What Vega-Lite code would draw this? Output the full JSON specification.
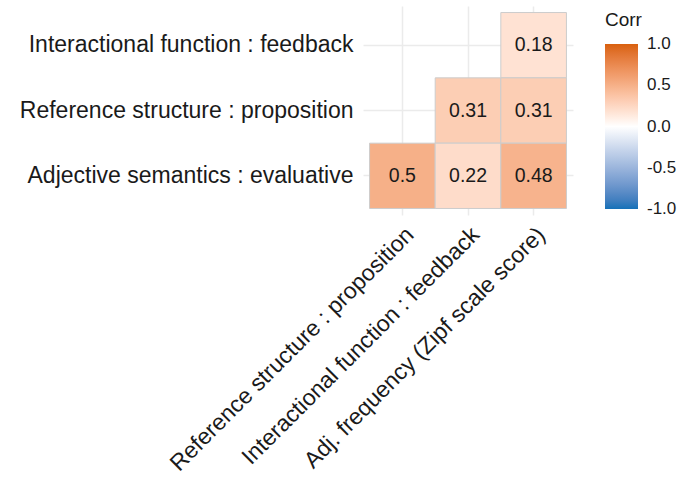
{
  "$schema": "https://vega.github.io/schema/vega-lite/v6.json",
  "width": 210,
  "height": 209,
  "autosize": {"type": "none"},
  "padding": {"left": 363, "top": 6, "right": 106, "bottom": 265},
  "background": "white",
  "config": {
    "view": {"stroke": null},
    "font": "Liberation Sans",
    "axis": {
      "domain": false,
      "ticks": false,
      "grid": true,
      "gridColor": "#EBEBEB",
      "gridWidth": 1.5,
      "bandPosition": 0.5,
      "zindex": 0,
      "labelFont": "Liberation Sans",
      "labelFontSize": 23,
      "labelColor": "#1A1A1A",
      "labelLimit": 0,
      "title": null
    }
  },
  "data": {
    "values": [
      {"var1": "Adj. frequency (Zipf scale score)", "var2": "Interactional function : feedback", "corr": 0.18},
      {"var1": "Interactional function : feedback", "var2": "Reference structure : proposition", "corr": 0.31},
      {"var1": "Adj. frequency (Zipf scale score)", "var2": "Reference structure : proposition", "corr": 0.31},
      {"var1": "Reference structure : proposition", "var2": "Adjective semantics : evaluative", "corr": 0.5},
      {"var1": "Interactional function : feedback", "var2": "Adjective semantics : evaluative", "corr": 0.22},
      {"var1": "Adj. frequency (Zipf scale score)", "var2": "Adjective semantics : evaluative", "corr": 0.48}
    ]
  },
  "encoding": {
    "x": {
      "field": "var1",
      "type": "nominal",
      "sort": ["Reference structure : proposition", "Interactional function : feedback", "Adj. frequency (Zipf scale score)"],
      "scale": {"paddingInner": 0, "paddingOuter": 0.1},
      "axis": {"labelAngle": -45, "labelAlign": "right", "labelBaseline": "top", "labelPadding": 8}
    },
    "y": {
      "field": "var2",
      "type": "nominal",
      "sort": ["Interactional function : feedback", "Reference structure : proposition", "Adjective semantics : evaluative"],
      "scale": {"paddingInner": 0, "paddingOuter": 0.1},
      "axis": {"labelPadding": 10}
    }
  },
  "layer": [
    {
      "mark": {"type": "rect", "stroke": "#CCCCCC", "strokeWidth": 1},
      "encoding": {
        "color": {
          "field": "corr",
          "type": "quantitative",
          "scale": {"domain": [-1, 0, 1], "range": ["#1571B8", "#FFFFFF", "#D9600E"], "interpolate": "lab"},
          "legend": {
            "title": "Corr",
            "orient": "none",
            "legendX": 242,
            "legendY": 5,
            "direction": "vertical",
            "gradientLength": 165,
            "gradientThickness": 33,
            "gradientStrokeWidth": 0,
            "values": [-1, -0.5, 0, 0.5, 1],
            "labelExpr": "datum.value < 0 ? '-' + format(-datum.value, '.1f') : format(datum.value, '.1f')",
            "titleFontSize": 19,
            "titleFontWeight": "normal",
            "titleColor": "#1A1A1A",
            "titleFont": "Liberation Sans",
            "titlePadding": 14,
            "labelFontSize": 17,
            "labelColor": "#1A1A1A",
            "labelFont": "Liberation Sans",
            "labelOffset": 9,
            "encode": {"labels": {"update": {"baseline": {"value": "middle"}}}}
          }
        }
      }
    },
    {
      "mark": {"type": "text", "fontSize": 19.5, "color": "#1A1A1A", "font": "Liberation Sans"},
      "encoding": {
        "text": {"field": "corr", "type": "quantitative", "format": ".2~f"}
      }
    }
  ]
}
